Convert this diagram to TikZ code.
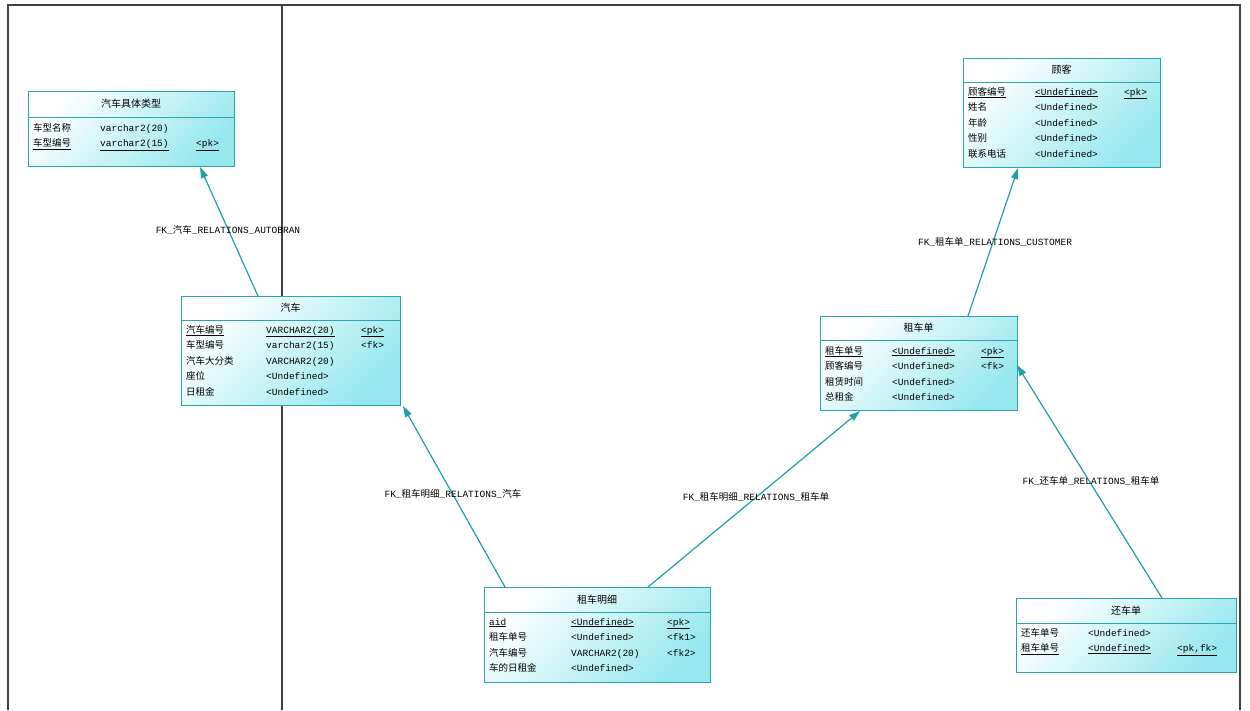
\documentclass[tikz,border=0pt]{standalone}
\usepackage{fontspec}
\setmainfont{Liberation Mono}
\newfontfamily\cjk{Noto Sans CJK SC}
\usetikzlibrary{arrows.meta}
\newcommand\zh[1]{{\cjk #1}}
\newcommand\ul[1]{\underline{#1}}
\definecolor{tborder}{RGB}{40,165,175}
\definecolor{tcyan}{RGB}{150,232,238}
\definecolor{tline}{RGB}{30,160,165}
\tikzset{
  x=1pt,y=-1pt,
  tbl/.style={draw=tborder,line width=1pt,anchor=north west,inner sep=0pt,shading=axis,left color=white,right color=tcyan,shading angle=45},
  head/.style={anchor=center,font=\fontsize{10}{12}\selectfont\cjk,inner sep=0pt},
  body/.style={anchor=north west,inner sep=0pt,font=\fontsize{9.5}{15.5}\selectfont},
  fk/.style={draw=tline,line width=1.2pt,-{Triangle[length=11pt,width=7pt]}},
  lab/.style={font=\fontsize{9.5}{12}\selectfont,inner sep=1pt},
  frame/.style={draw=black!75,line width=1.2pt}
}
\newcommand\erbox[8]{% name, x1,y1,x2,y2,headerbottom,title,body-node
  \node[tbl,minimum width=#4-#2,minimum height=#5-#3] (#1) at (#2,#3) {};
  \draw[tborder,line width=1pt] (#2,#6) -- (#4,#6);
  \node[head] (#1h) at ({(#2+#4)/2},{(#3+#6)/2}) {#7};
  #8
}
\begin{document}
\begin{tikzpicture}
\useasboundingbox (0,0) rectangle (1250,710);
\fill[white] (0,0) rectangle (1250,710);
\draw[frame] (8,710) -- (8,5) -- (1240,5) -- (1240,710);
\draw[frame] (282,5) -- (282,710);

\erbox{t1}{28}{91}{234}{166}{117}{汽车具体类型}{
\node[body] (t1b) at (33,120) {\begin{tabular}{@{}p{67pt}@{}p{96pt}@{}l@{}}
\zh{车型名称} & varchar2(20) & \\
\ul{\zh{车型编号}} & \ul{varchar2(15)} & \ul{<pk>}\\
\end{tabular}};}

\erbox{t2}{181}{296}{400}{405}{320}{汽车}{
\node[body] (t2b) at (186,322) {\begin{tabular}{@{}p{80pt}@{}p{95pt}@{}l@{}}
\ul{\zh{汽车编号}} & \ul{VARCHAR2(20)} & \ul{<pk>}\\
\zh{车型编号} & varchar2(15) & <fk>\\
\zh{汽车大分类} & VARCHAR2(20) & \\
\zh{座位} & <Undefined> & \\
\zh{日租金} & <Undefined> & \\
\end{tabular}};}

\erbox{t3}{963}{58}{1160}{167}{82}{顾客}{
\node[body] (t3b) at (968,84) {\begin{tabular}{@{}p{67pt}@{}p{89pt}@{}l@{}}
\ul{\zh{顾客编号}} & \ul{<Undefined>} & \ul{<pk>}\\
\zh{姓名} & <Undefined> & \\
\zh{年龄} & <Undefined> & \\
\zh{性别} & <Undefined> & \\
\zh{联系电话} & <Undefined> & \\
\end{tabular}};}

\erbox{t4}{820}{316}{1017}{410}{340}{租车单}{
\node[body] (t4b) at (825,343) {\begin{tabular}{@{}p{67pt}@{}p{89pt}@{}l@{}}
\ul{\zh{租车单号}} & \ul{<Undefined>} & \ul{<pk>}\\
\zh{顾客编号} & <Undefined> & <fk>\\
\zh{租赁时间} & <Undefined> & \\
\zh{总租金} & <Undefined> & \\
\end{tabular}};}

\erbox{t5}{484}{587}{710}{682}{612}{租车明细}{
\node[body] (t5b) at (489,614) {\begin{tabular}{@{}p{82pt}@{}p{96pt}@{}l@{}}
\ul{aid} & \ul{<Undefined>} & \ul{<pk>}\\
\zh{租车单号} & <Undefined> & <fk1>\\
\zh{汽车编号} & VARCHAR2(20) & <fk2>\\
\zh{车的日租金} & <Undefined> & \\
\end{tabular}};}

\erbox{t6}{1016}{598}{1236}{672}{623}{还车单}{
\node[body] (t6b) at (1021,625) {\begin{tabular}{@{}p{67pt}@{}p{89pt}@{}l@{}}
\zh{还车单号} & <Undefined> & \\
\ul{\zh{租车单号}} & \ul{<Undefined>} & \ul{<pk,fk>}\\
\end{tabular}};}

\coordinate (a1s) at (258,296); \coordinate (a1e) at (200,167);
\coordinate (a2s) at (505,587); \coordinate (a2e) at (403,406);
\coordinate (a3s) at (648,587); \coordinate (a3e) at (860,411);
\coordinate (a4s) at (968,316); \coordinate (a4e) at (1018,168);
\coordinate (a5s) at (1162,598); \coordinate (a5e) at (1017,365);
\draw[fk] (a1s) -- (a1e);
\draw[fk] (a2s) -- (a2e);
\draw[fk] (a3s) -- (a3e);
\draw[fk] (a4s) -- (a4e);
\draw[fk] (a5s) -- (a5e);
\node[lab] (l1) at (228,230) {FK\_\zh{汽车}\_RELATIONS\_AUTOBRAN};
\node[lab] (l2) at (453,494) {FK\_\zh{租车明细}\_RELATIONS\_\zh{汽车}};
\node[lab] (l3) at (756,497) {FK\_\zh{租车明细}\_RELATIONS\_\zh{租车单}};
\node[lab] (l4) at (995,242) {FK\_\zh{租车单}\_RELATIONS\_CUSTOMER};
\node[lab] (l5) at (1091,481) {FK\_\zh{还车单}\_RELATIONS\_\zh{租车单}};
\end{tikzpicture}
\end{document}
